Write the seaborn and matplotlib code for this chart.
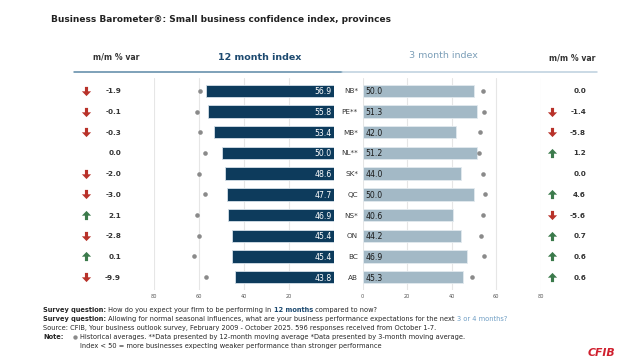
import numpy as np
import pandas as pd
import matplotlib
matplotlib.use("Agg")
import matplotlib.pyplot as plt
import matplotlib.transforms as mtransforms
from matplotlib.lines import Line2D
from matplotlib.path import Path
import seaborn as sns

# ---------------- data ----------------
provinces = ["NB*", "PE**", "MB*", "NL**", "SK*", "QC", "NS*", "ON", "BC", "AB"]
idx12 = [56.9, 55.8, 53.4, 50.0, 48.6, 47.7, 46.9, 45.4, 45.4, 43.8]
hist12 = [59.6, 61.0, 59.4, 57.3, 59.8, 57.3, 60.9, 60.1, 62.1, 56.7]
var12 = [-1.9, -0.1, -0.3, 0.0, -2.0, -3.0, 2.1, -2.8, 0.1, -9.9]
idx3 = [50.0, 51.3, 42.0, 51.2, 44.0, 50.0, 40.6, 44.2, 46.9, 45.3]
hist3 = [53.9, 54.3, 52.8, 52.1, 53.9, 55.1, 54.2, 53.0, 54.5, 49.2]
var3 = [0.0, -1.4, -5.8, 1.2, 0.0, 4.6, -5.6, 0.7, 0.6, 0.6]
ticks12 = [80, 60, 40, 20, 0]
ticklabels12 = ["80", "60", "40", "20", ""]
ticks3 = [0, 20, 40, 60, 80]
ticklabels3 = ["0", "20", "40", "60", "80"]

title = "Business Barometer®: Small business confidence index, provinces"

# ---------------- style ----------------
sns.set_style("white")
plt.rcParams["font.family"] = ["DejaVu Sans"]

W, H = 635, 362
fig = plt.figure(figsize=(W / 100, H / 100), dpi=100)
fig.patch.set_facecolor("white")

def fx(px):
    return px / W

def fy(py):
    return 1 - py / H

NAVY = "#0d3b5c"
LIGHT = "#a3b9c6"
DOT = "#8a8a8a"
RED = "#b8322a"
GREEN = "#3b7a4b"
GRID = "#e6e6e6"
TXT = "#262626"

df = pd.DataFrame({"prov": provinces, "i12": idx12, "h12": hist12,
                   "i3": idx3, "h3": hist3})

ax_top, ax_bot = 78, 290
axL = fig.add_axes([fx(154), fy(ax_bot), fx(334) - fx(154), (ax_bot - ax_top) / H])
axR = fig.add_axes([fx(362.7), fy(ax_bot), fx(540.7) - fx(362.7), (ax_bot - ax_top) / H])

sns.barplot(data=df, x="i12", y="prov", orient="h", ax=axL, color=NAVY,
            width=0.6, edgecolor="#d5e0e8", linewidth=0.6, saturation=1)
sns.stripplot(data=df, x="h12", y="prov", orient="h", ax=axL, color=DOT,
              jitter=False, size=3.3, linewidth=0, zorder=4)
sns.barplot(data=df, x="i3", y="prov", orient="h", ax=axR, color=LIGHT,
            width=0.6, edgecolor="#e3eaef", linewidth=0.6, saturation=1)
sns.stripplot(data=df, x="h3", y="prov", orient="h", ax=axR, color=DOT,
              jitter=False, size=3.3, linewidth=0, zorder=4)

n = len(provinces)
for ax, ticks, labels, lim in ((axL, ticks12, ticklabels12, (80, 0)),
                               (axR, ticks3, ticklabels3, (0, 80))):
    ax.set_xlim(*lim)
    ax.set_ylim(n - 1 + 0.62, -0.62)
    ax.set_xticks(ticks)
    ax.set_xticklabels(labels)
    ax.set_yticks([])
    ax.set_xlabel("")
    ax.set_ylabel("")
    ax.tick_params(axis="x", length=0, labelsize=3.6, labelcolor="#555555", pad=3)
    ax.grid(axis="x", color=GRID, linewidth=0.8)
    ax.grid(axis="y", visible=False)
    ax.set_axisbelow(True)
    ax.patch.set_alpha(0)
    for s in ax.spines.values():
        s.set_visible(False)

# bar value labels
for i, v in enumerate(idx12):
    axL.text(1.0, i, f"{v:.1f}", ha="right", va="center_baseline",
             color="white", fontsize=5.6, zorder=5)
for i, v in enumerate(idx3):
    axR.text(1.4, i, f"{v:.1f}", ha="left", va="center_baseline",
             color="#1a1a1a", fontsize=5.6, zorder=5)

# overlay axes for free-form annotations
axF = fig.add_axes([0, 0, 1, 1])
axF.axis("off")
axF.set_xlim(0, 1)
axF.set_ylim(0, 1)

# province labels and m/m columns
tr = mtransforms.blended_transform_factory(fig.transFigure, axL.transData)
for i, p in enumerate(provinces):
    fig.text(fx(358), i, p, transform=tr, ha="right", va="center_baseline",
             fontsize=5.2, color="#333333")

_down = [(-0.17, 0.5), (0.17, 0.5), (0.17, 0.02), (0.5, 0.02), (0.0, -0.5),
         (-0.5, 0.02), (-0.17, 0.02), (-0.17, 0.5)]
DOWN = Path(_down, [Path.MOVETO] + [Path.LINETO] * 6 + [Path.CLOSEPOLY])
UP = Path([(x, -y) for x, y in _down], [Path.MOVETO] + [Path.LINETO] * 6 + [Path.CLOSEPOLY])

def mm_column(vals, x_arrow, x_val):
    for i, v in enumerate(vals):
        if v != 0:
            axF.scatter([fx(x_arrow)], [i], marker=DOWN if v < 0 else UP, s=44,
                        color=RED if v < 0 else GREEN, linewidths=0, transform=tr,
                        clip_on=False)
        fig.text(fx(x_val), i, f"{v:.1f}", transform=tr, ha="right",
                 va="center_baseline", fontsize=5.2, fontweight="bold", color="#333333")

mm_column(var12, 86, 121)
mm_column(var3, 552, 586)

# title and headers
fig.text(fx(51), fy(20), title, fontsize=6.45, fontweight="bold", color="#222222",
         va="center", ha="left")
fig.text(fx(116), fy(57), "m/m % var", fontsize=5.6, fontweight="bold",
         color="#333333", ha="center", va="center")
fig.text(fx(260), fy(57), "12 month index", fontsize=6.8, fontweight="bold",
         color="#1d4a70", ha="center", va="center")
fig.text(fx(443), fy(56), "3 month index", fontsize=6.8,
         color="#7c9fb8", ha="center", va="center")
fig.text(fx(572), fy(58), "m/m % var", fontsize=5.6, fontweight="bold",
         color="#333333", ha="center", va="center")

fig.add_artist(Line2D([fx(74), fx(342)], [fy(72), fy(72)], color="#5b88a5",
                      linewidth=1.1, transform=fig.transFigure))
fig.add_artist(Line2D([fx(342), fx(597)], [fy(72), fy(72)], color="#bcd0de",
                      linewidth=1.1, transform=fig.transFigure))

# footer
FS = 4.8

def rich_line(x, y, parts):
    prev = None
    for s, color, weight in parts:
        if prev is None:
            prev = axF.text(x, y, s, color=color, fontweight=weight, fontsize=FS,
                            ha="left", va="baseline", transform=fig.transFigure)
        else:
            prev = axF.annotate(s, xycoords=prev, xy=(1, 0), color=color,
                                fontweight=weight, fontsize=FS, ha="left",
                                va="bottom")
    return prev

rich_line(fx(43), fy(312), [
    ("Survey question:", TXT, "bold"),
    (" How do you expect your firm to be performing in ", TXT, "normal"),
    ("12 months", "#1d4a70", "bold"),
    (" compared to now?", TXT, "normal")])
rich_line(fx(43), fy(321), [
    ("Survey question:", TXT, "bold"),
    (" Allowing for normal seasonal influences, what are your business performance expectations for the next ", TXT, "normal"),
    ("3 or 4 months?", "#6f9ec4", "normal")])
rich_line(fx(43), fy(330), [
    ("Source: CFIB, Your business outlook survey, February 2009 - October 2025. 596 responses received from October 1-7.", TXT, "normal")])
rich_line(fx(43), fy(339), [("Note:", TXT, "bold")])
axF.scatter([fx(75)], [fy(337)], s=10, color=DOT, linewidths=0, transform=fig.transFigure)
rich_line(fx(80), fy(339), [
    ("Historical averages. **Data presented by 12-month moving average *Data presented by 3-month moving average.", TXT, "normal")])
rich_line(fx(80), fy(348), [
    ("Index < 50 = more businesses expecting weaker performance than stronger performance", TXT, "normal")])

fig.text(fx(601), fy(353), "CFIB", fontsize=7.8, fontweight="bold", fontstyle="italic",
         color="#d0202e", ha="center", va="center")

fig.savefig("out.png", dpi=100, facecolor="white")
